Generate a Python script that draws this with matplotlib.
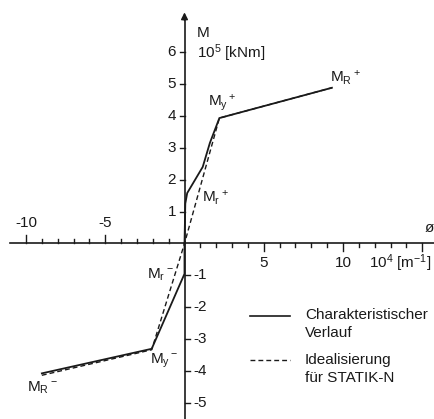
import matplotlib
matplotlib.use("Agg")
import matplotlib.pyplot as plt

plt.rcParams["font.family"] = ["Liberation Sans", "DejaVu Sans"]
plt.rcParams["mathtext.default"] = "regular"

# characteristic curve (phi in 1e-4 1/m, M in 1e5 kNm)
phi_char_pos = [0.0, 0.05, 0.17, 1.15, 1.6, 2.2, 9.3]
m_char_pos = [0.0, 1.25, 1.58, 2.4, 3.15, 3.93, 4.88]
phi_char_neg = [0.0, 0.0, -2.07, -9.0]
m_char_neg = [0.0, -0.95, -3.3, -4.07]

# idealisation for STATIK-N
phi_ideal = [-9.0, -2.07, 0.0, 2.2, 9.3]
m_ideal = [-4.13, -3.33, 0.0, 3.93, 4.88]

x_major_neg = [-10, -5]
x_major_pos = [5, 10, 15]
x_minor = [v for v in range(-10, 16) if v != 0]
y_ticks_pos = [1, 2, 3, 4, 5, 6]
y_ticks_neg = [-1, -2, -3, -4, -5]

labels = [
    ("M$_R$$^+$", 9.2, 5.19),
    ("M$_y$$^+$", 1.48, 4.4),
    ("M$_r$$^+$", 1.1, 1.43),
    ("M$_r$$^-$", -2.37, -0.99),
    ("M$_y$$^-$", -2.18, -3.68),
    ("M$_R$$^-$", -9.94, -4.53),
]

fig = plt.figure(figsize=(4.34, 4.19), dpi=100)
ax = fig.add_axes([0, 0, 1, 1])
ax.set_xlim(-11.64, 15.74)
ax.set_ylim(-5.50, 7.63)
ax.axis("off")

ink = "#1a1a1a"
fs = 11
sx = 27.38 / 434  # data units per pixel
sy = 13.13 / 419

# axes
ax.plot([-11.0, 15.74], [0, 0], color=ink, lw=1.2)
ax.plot([0, 0], [-5.5, 7.1], color=ink, lw=1.2)
ax.annotate("", xy=(0, 7.33), xytext=(0, 6.9),
            arrowprops=dict(arrowstyle="-|>", color=ink, lw=1.1,
                            mutation_scale=10))

# x ticks: up on negative side, down on positive side
for v in x_minor:
    major = v in x_major_neg or v in x_major_pos
    length = (8 if major else 4) * sy
    sign = 1 if v < 0 else -1
    ax.plot([v, v], [0, sign * length], color=ink, lw=1.0)
for v in x_major_neg:
    ax.text(v, 0.64, str(v), ha="center", va="center", fontsize=fs, color=ink)
for v in x_major_pos[:2]:
    ax.text(v, -0.61, str(v), ha="center", va="center", fontsize=fs, color=ink)
ax.text(11.65, -0.61, "10$^4$ [m$^{-1}$]", ha="left", va="center",
        fontsize=fs, color=ink)
ax.text(15.45, 0.49, "ø", ha="center", va="center", fontsize=fs, color=ink)

# y ticks: left on positive side, right on negative side
for v in y_ticks_pos:
    ax.plot([-5 * sx, 0], [v, v], color=ink, lw=1.0)
    ax.text(-0.54, v, str(v), ha="right", va="center", fontsize=fs, color=ink)
for v in y_ticks_neg:
    ax.plot([0, 5 * sx], [v, v], color=ink, lw=1.0)
    ax.text(0.54, v, str(v), ha="left", va="center", fontsize=fs, color=ink)
ax.text(0.79, 6.6, "M", ha="left", va="center", fontsize=fs, color=ink)
ax.text(0.79, 5.97, "10$^5$ [kNm]", ha="left", va="center", fontsize=fs, color=ink)

# curves
ax.plot(phi_char_pos, m_char_pos, color=ink, lw=1.3, solid_joinstyle="miter")
ax.plot(phi_char_neg, m_char_neg, color=ink, lw=1.3, solid_joinstyle="miter")
ax.plot(phi_ideal, m_ideal, color=ink, lw=1.0, dashes=(3.5, 2.2))

for txt, x, y in labels:
    ax.text(x, y, txt, ha="left", va="center", fontsize=fs, color=ink)

# legend
ax.plot([4.13, 6.66], [-2.27, -2.27], color=ink, lw=1.2)
ax.text(7.6, -2.24, "Charakteristischer", ha="left", va="center", fontsize=fs, color=ink)
ax.text(7.6, -2.81, "Verlauf", ha="left", va="center", fontsize=fs, color=ink)
ax.plot([4.13, 6.66], [-3.65, -3.65], color=ink, lw=1.0, dashes=(3.5, 2.2))
ax.text(7.6, -3.65, "Idealisierung", ha="left", va="center", fontsize=fs, color=ink)
ax.text(7.6, -4.22, "für STATIK-N", ha="left", va="center", fontsize=fs, color=ink)

fig.savefig("out.png", dpi=100)
